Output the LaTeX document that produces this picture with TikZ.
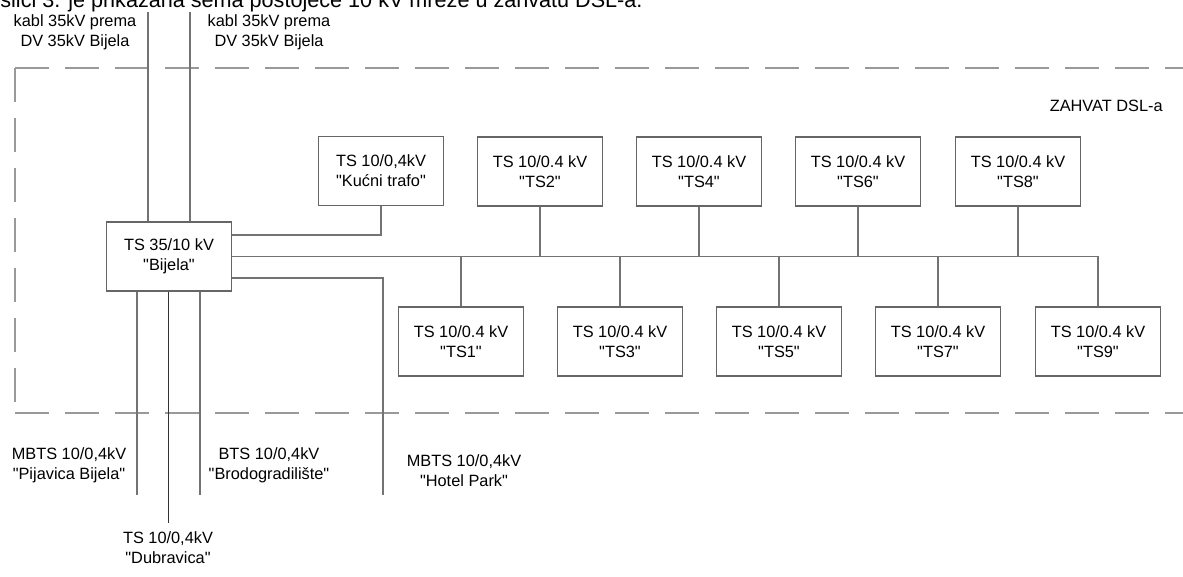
\documentclass[tikz,border=0pt]{standalone}
\usepackage{fontspec}
\setmainfont{Liberation Sans}[Ligatures=TeXOff]
\tikzset{
  stanica/.style={draw=black!60, line width=0.6pt, minimum width=2.5cm, minimum height=1.38cm,
    inner sep=0pt, align=center, font=\fontsize{9.3}{11.4}\selectfont},
  natpis/.style={inner sep=0pt, align=center, font=\fontsize{9.3}{11.4}\selectfont},
  vod/.style={draw=black!55, line width=0.6pt},
  granica/.style={draw=black!40, line width=0.6pt, dash pattern=on 0.68cm off 0.32cm}
}
\begin{document}
\begin{tikzpicture}[x=0.02cm, y=-0.02cm]
  \useasboundingbox (0,0) rectangle (1183,577);
  \clip (0,0) rectangle (1183,577);
  \node[anchor=base west, inner sep=0pt, font=\fontsize{12.3}{15}\selectfont] (uvod) at (0,8)
    {slici 3. je prikazana šema postojeće 10 kV mreže u zahvatu DSL-a.};
  \draw[granica] (15,68) -- (1183,68);
  \draw[granica] (15,68) -- (15,413);
  \draw[granica] (15,413) -- (1183,413);
  \node[natpis, anchor=east] (zahvat) at (1163,106) {ZAHVAT DSL-a};

  \node[stanica] (bijela) at (169,256.5) {TS 35/10 kV\\"Bijela"};
  \node[stanica] (kucni) at (381,171) {TS 10/0,4kV\\"Kućni trafo"};
  \foreach \n/\x in {2/540,4/699,6/858,8/1018}
    \node[stanica] (ts\n) at (\x,171.5) {TS 10/0.4 kV\\"TS\n"};
  \foreach \n/\x in {1/461,3/620,5/779,7/938,9/1098}
    \node[stanica] (ts\n) at (\x,341.5) {TS 10/0.4 kV\\"TS\n"};

  \node[natpis] (kablA) at (75,32) {kabl 35kV prema\\DV 35kV Bijela};
  \node[natpis] (kablB) at (269,32) {kabl 35kV prema\\DV 35kV Bijela};
  \node[natpis] (pijavica) at (69,465) {MBTS 10/0,4kV\\"Pijavica Bijela"};
  \node[natpis] (brodo) at (269,465) {BTS 10/0,4kV\\"Brodogradilište"};
  \node[natpis] (hotel) at (464,471) {MBTS 10/0,4kV\\"Hotel Park"};
  \node[natpis] (dubravica) at (168,548) {TS 10/0,4kV\\"Dubravica"};

  \coordinate (ulazA) at (148,12);
  \coordinate (ulazB) at (190,12);
  \coordinate (krajP) at (137,495);
  \coordinate (krajD) at (168,523);
  \coordinate (krajB) at (200,495);
  \coordinate (krajH) at (383,495);

  \draw[vod] (ulazA) -- (ulazA |- bijela.north);
  \draw[vod] (ulazB) -- (ulazB |- bijela.north);
  \draw[vod] (krajP |- bijela.south) -- (krajP);
  \draw[line width=0.5pt, black!80] (krajD |- bijela.south) -- (krajD);
  \draw[vod] (krajB |- bijela.south) -- (krajB);
  \draw[vod] ([yshift=0.43cm]bijela.east) -| (kucni.south);
  \draw[vod] ([yshift=-0.43cm]bijela.east) -| (krajH);
  \draw[vod] (bijela.east) -| (ts9.north);
  \foreach \n in {2,4,6,8}
    \draw[vod] (ts\n.south) -- (ts\n.south |- bijela.east);
  \foreach \n in {1,3,5,7}
    \draw[vod] (ts\n.north) -- (ts\n.north |- bijela.east);
\end{tikzpicture}
\end{document}
